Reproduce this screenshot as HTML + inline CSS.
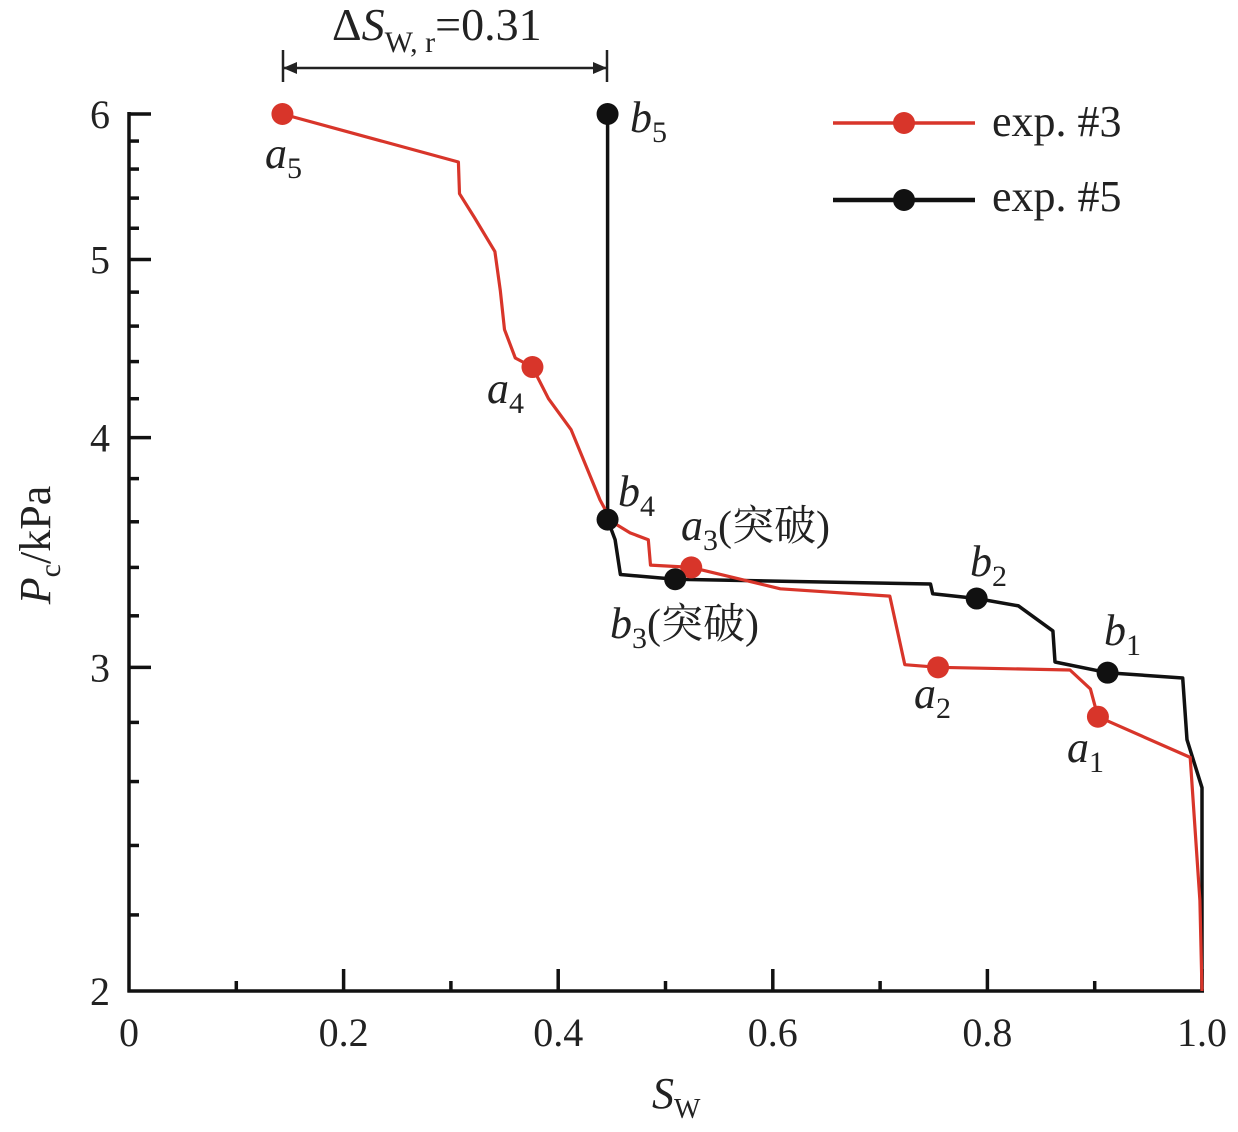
<!DOCTYPE html>
<html><head><meta charset="utf-8">
<style>
html,body{margin:0;padding:0;background:#fff;}
svg{display:block;}
text{font-family:"Liberation Serif","Noto Serif CJK SC",serif;fill:#222;}
</style></head>
<body>
<svg id="chart" width="1238" height="1132" viewBox="0 0 1238 1132" xmlns="http://www.w3.org/2000/svg">
<g id="axes"></g>
<g id="series"></g>
<g id="labels"></g>
<g>
  <line x1="283" y1="68" x2="607" y2="68" stroke="#222" stroke-width="2.5"/>
  <line x1="283" y1="50" x2="283" y2="82" stroke="#222" stroke-width="2.5"/>
  <line x1="607" y1="50" x2="607" y2="82" stroke="#222" stroke-width="2.5"/>
  <path d="M283 68 l14 -6 v12 z" fill="#222"/>
  <path d="M607 68 l-14 -6 v12 z" fill="#222"/>
  <text x="332" y="40" font-size="46">Δ<tspan font-style="italic">S</tspan><tspan font-size="30" dy="12">W, r</tspan><tspan dy="-12">=0.31</tspan></text>
</g>
<g>
  <g>
    <line x1="833" y1="123" x2="975" y2="123" stroke="#d8352a" stroke-width="3.5"/>
    <circle cx="904" cy="123" r="11" fill="#d8352a"/>
    <text x="992" y="136" font-size="44">exp. #3</text>
  </g>
  <g>
    <line x1="833" y1="200" x2="975" y2="200" stroke="#111" stroke-width="4.5"/>
    <circle cx="904" cy="200" r="11" fill="#111"/>
    <text x="992" y="211" font-size="44">exp. #5</text>
  </g>
</g>
<text transform="translate(50,545) rotate(-90)" text-anchor="middle" font-size="44"><tspan font-style="italic">P</tspan><tspan font-size="30" dy="10">c</tspan><tspan dy="-10">/kPa</tspan></text>
<text x="652" y="1108" font-size="44" font-style="italic">S<tspan font-size="28" dy="10" font-style="normal">W</tspan></text>
</svg>
<script>
const xTicks=[0,0.2,0.4,0.6,0.8,1.0];
const xTickLabels=["0","0.2","0.4","0.6","0.8","1.0"];
const yTicks=[2,3,4,5,6];
const yTickLabels=["2","3","4","5","6"];
const redSw=[0.143,0.307,0.308,0.322,0.341,0.346,0.350,0.360,0.376,0.391,0.412,0.426,0.439,0.450,0.467,0.484,0.486,0.524,0.607,0.709,0.723,0.754,0.877,0.896,0.903,0.989,0.998,1.0];
const redPc=[6.0,5.65,5.43,5.27,5.05,4.81,4.58,4.42,4.37,4.20,4.04,3.86,3.70,3.60,3.55,3.52,3.41,3.40,3.31,3.28,3.01,3.00,2.99,2.92,2.82,2.68,2.24,2.0];
const blackSw=[0.446,0.446,0.453,0.458,0.509,0.747,0.749,0.790,0.829,0.861,0.863,0.912,0.982,0.986,1.0,1.0];
const blackPc=[6.0,3.61,3.52,3.37,3.35,3.33,3.29,3.27,3.24,3.14,3.02,2.98,2.96,2.74,2.58,2.0];
const redMarkSw=[0.903,0.754,0.524,0.376,0.143];
const redMarkPc=[2.82,3.00,3.40,4.37,6.0];
const blackMarkSw=[0.912,0.790,0.509,0.446,0.446];
const blackMarkPc=[2.98,3.27,3.35,3.61,6.0];

const X0=129,X1=1202,Y0=991,Y1=114;
function sx(v){return X0+v*(X1-X0);}
function sy(p){return Y0-(Math.log(p/2)/Math.log(3))*(Y0-Y1);}
const NS="http://www.w3.org/2000/svg";
function mk(tag,attrs,parent){const e=document.createElementNS(NS,tag);for(const k in attrs)e.setAttribute(k,attrs[k]);parent.appendChild(e);return e;}
const axes=document.getElementById('axes');
let a=mk('line',{x1:X0,y1:Y1-2,x2:X0,y2:Y0+1.5,stroke:'#111','stroke-width':3.5},axes);


a=mk('line',{x1:X0-1.5,y1:Y0,x2:X1+2,y2:Y0,stroke:'#111','stroke-width':3.5},axes);


for(let i=1;i<=10;i++){
  const v=i/10,maj=i%2===0;
  const t=mk('line',{x1:sx(v),y1:Y0,x2:sx(v),y2:Y0-(maj?22:10),stroke:'#111','stroke-width':3.5},axes);
  
  
}
xTicks.forEach((v,i)=>{
  const t=mk('text',{x:sx(v),y:1046,'text-anchor':'middle','font-size':40},axes);
  t.textContent=xTickLabels[i];
  
  
});
for(let k=1;k<=20;k++){
  const pr=Math.round((2+k*0.2)*10)/10;
  const maj=Math.abs(pr-Math.round(pr))<1e-6;
  const t=mk('line',{x1:X0,y1:sy(pr),x2:X0+(maj?22:10),y2:sy(pr),stroke:'#111','stroke-width':3.5},axes);
  
  
}
yTicks.forEach((v,i)=>{
  const t=mk('text',{x:110,y:sy(v)+14,'text-anchor':'end','font-size':40},axes);
  t.textContent=yTickLabels[i];
  
  
});
const ser=document.getElementById('series');
function pts(xs,ys){return xs.map((x,i)=>sx(x).toFixed(1)+','+sy(ys[i]).toFixed(1)).join(' ');}
let l=mk('polyline',{points:pts(blackSw,blackPc),fill:'none',stroke:'#111','stroke-width':3.5,'stroke-linejoin':'round'},ser);


l=mk('polyline',{points:pts(redSw,redPc),fill:'none',stroke:'#d8352a','stroke-width':3.2,'stroke-linejoin':'round'},ser);


redMarkSw.forEach((x,i)=>{
  const c=mk('circle',{cx:sx(x),cy:sy(redMarkPc[i]),r:11,fill:'#d8352a'},ser);
  
  
});
blackMarkSw.forEach((x,i)=>{
  const c=mk('circle',{cx:sx(x),cy:sy(blackMarkPc[i]),r:11,fill:'#111'},ser);
  
  
});
const labs=document.getElementById('labels');
const labelDefs=[
 ['a',5,'',265,168],['a',4,'',487,403],['a',3,'(突破)',681,540],['a',2,'',914,708],['a',1,'',1067,762],
 ['b',5,'',630,132],['b',4,'',618,506],['b',3,'(突破)',610,638],['b',2,'',970,576],['b',1,'',1104,645]
];
labelDefs.forEach(d=>{
  const t=mk('text',{x:d[3],y:d[4],'font-size':44},labs);
  t.innerHTML='<tspan font-style="italic">'+d[0]+'</tspan><tspan font-size="30" dy="10">'+d[1]+'</tspan>'+(d[2]?'<tspan dy="-10" font-size="42">'+d[2]+'</tspan>':'');
  
  
});
</script>
</body></html>
